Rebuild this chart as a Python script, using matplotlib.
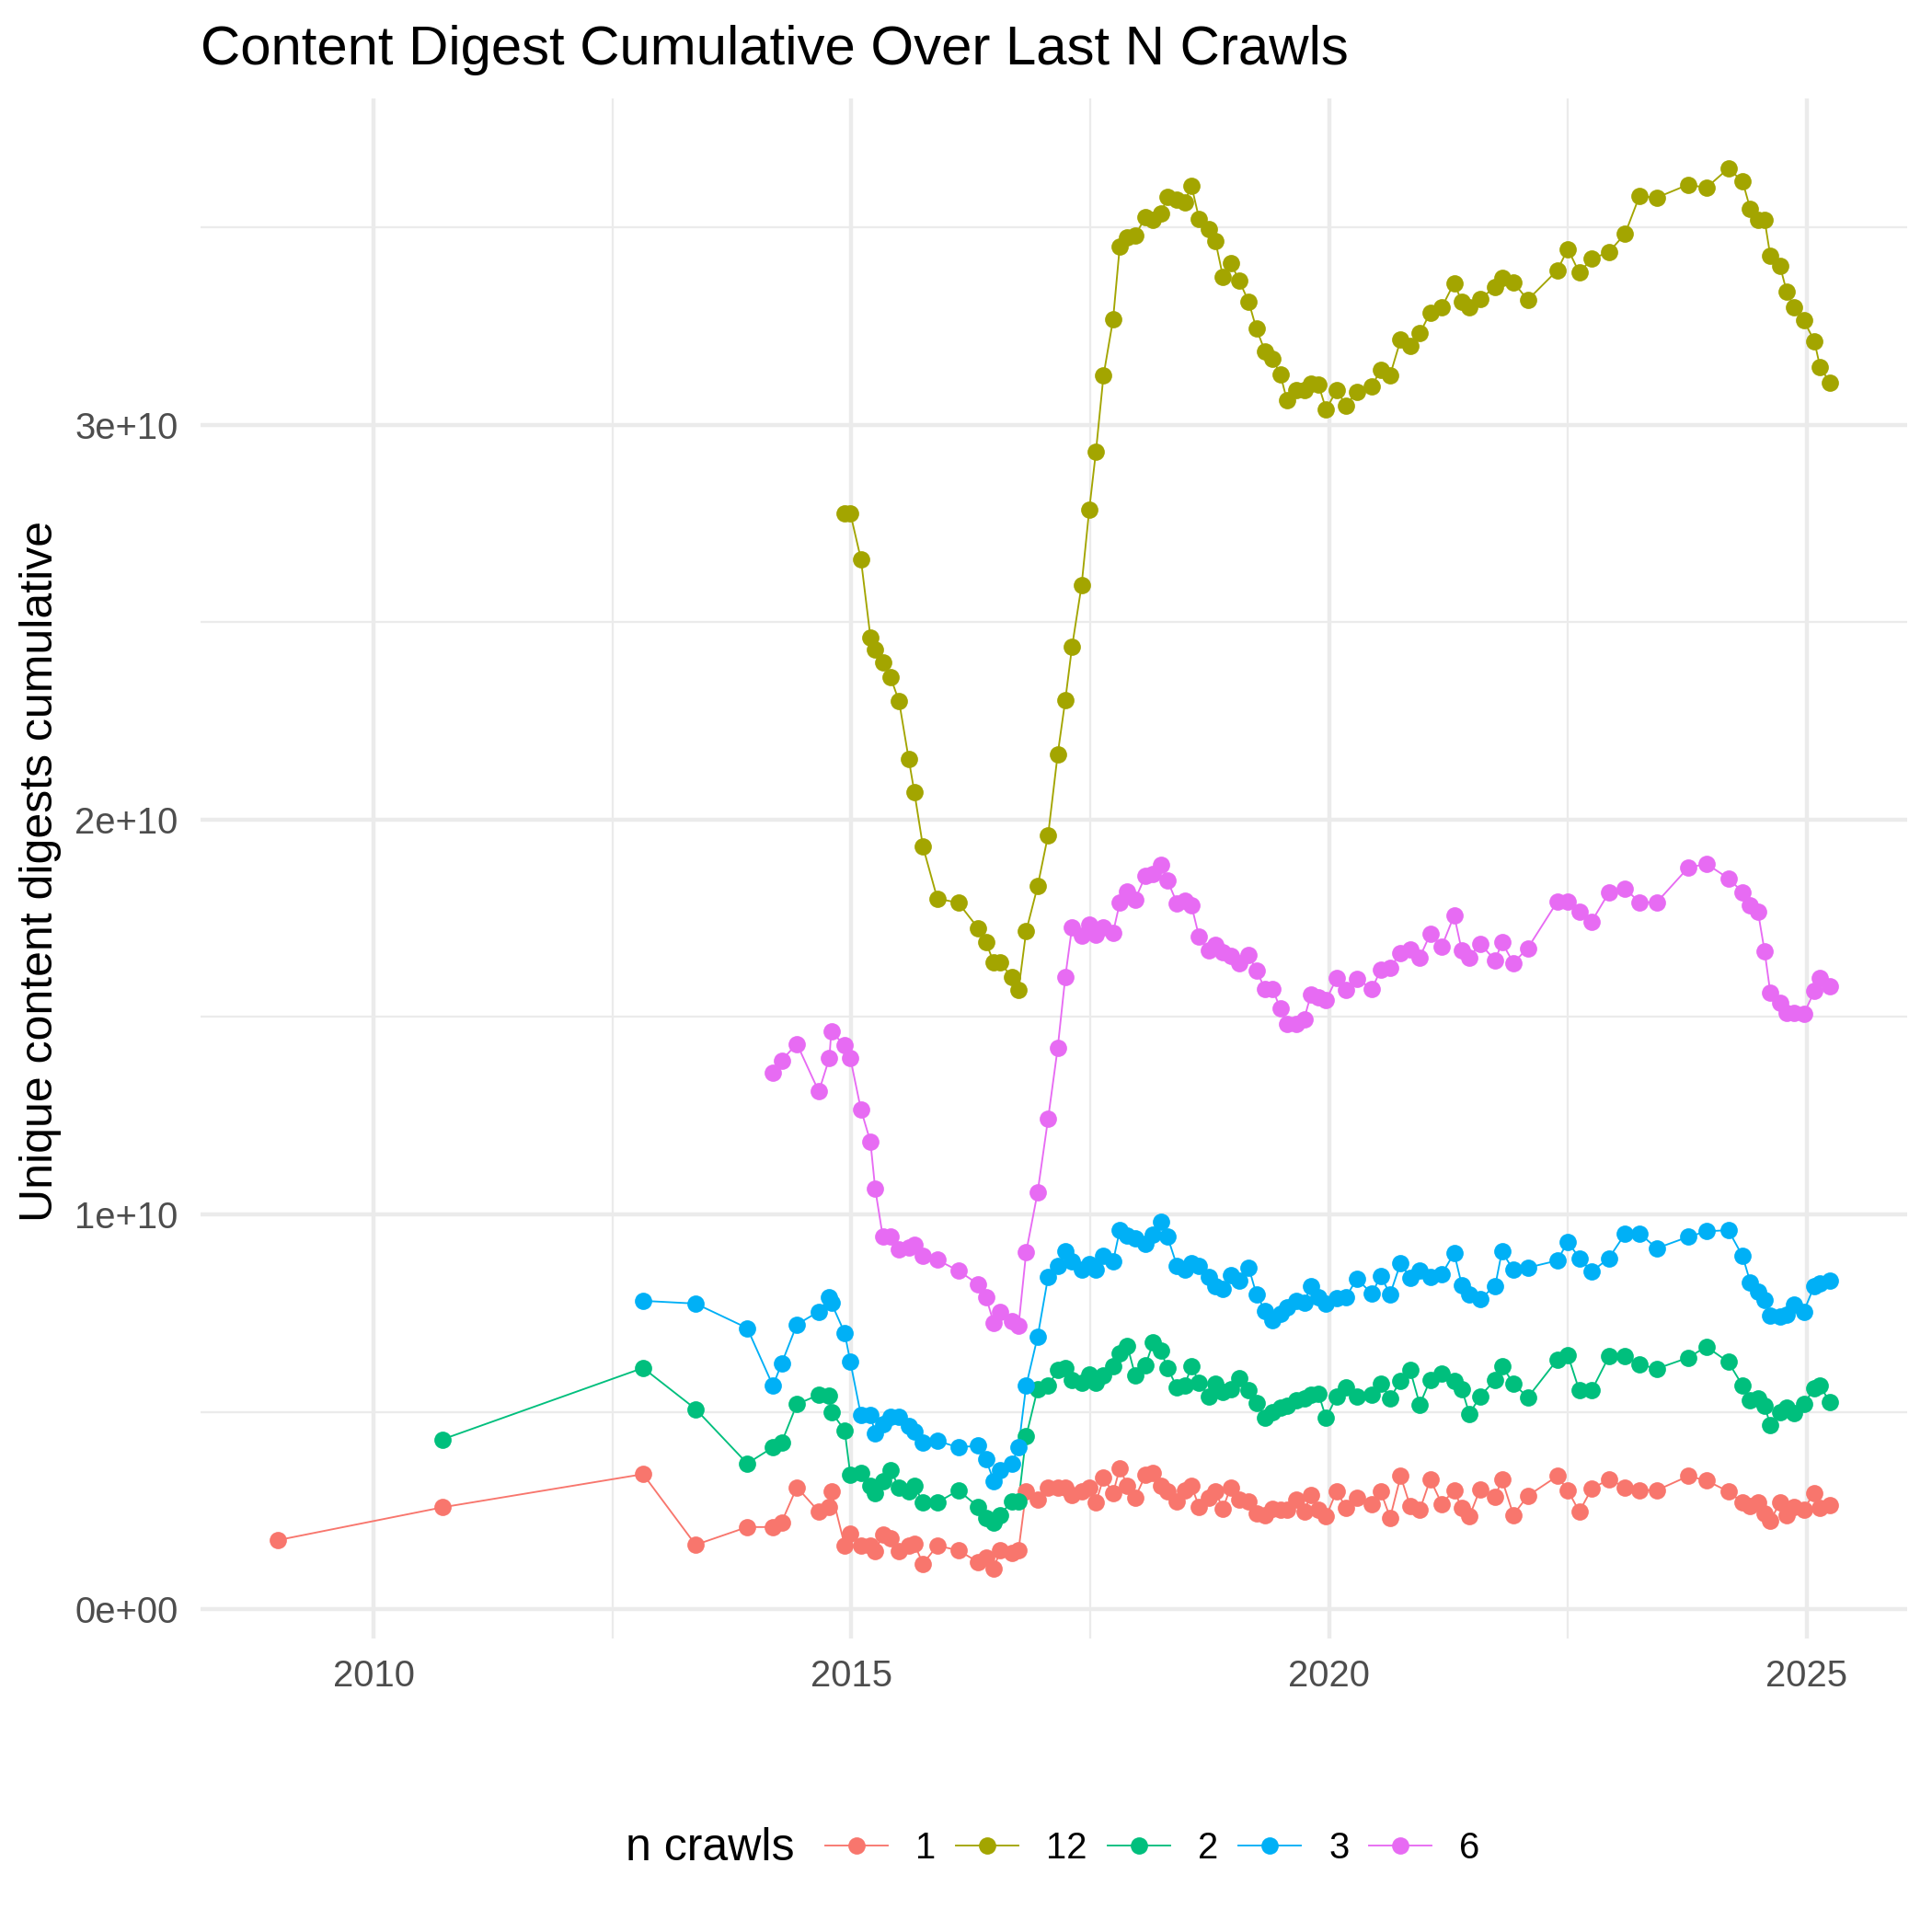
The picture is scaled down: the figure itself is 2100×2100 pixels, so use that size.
import matplotlib
matplotlib.use("Agg")
import matplotlib.pyplot as plt
from matplotlib.lines import Line2D
from matplotlib.ticker import FixedLocator

plt.rcParams['font.family'] = ['Liberation Sans', 'DejaVu Sans']

# Crawl dates (decimal years)
dates = [2009.00, 2010.72, 2012.82, 2013.37, 2013.91,
         2014.18, 2014.27, 2014.43, 2014.66, 2014.77, 2014.79, 2014.93, 2014.99,
         2015.10, 2015.20, 2015.25, 2015.33, 2015.41, 2015.50, 2015.60, 2015.66, 2015.75, 2015.90,
         2016.12, 2016.33, 2016.41, 2016.49, 2016.56, 2016.68, 2016.75, 2016.83, 2016.95,
         2017.06, 2017.16, 2017.24, 2017.31, 2017.41, 2017.49, 2017.56, 2017.64, 2017.74, 2017.81, 2017.89, 2017.97,
         2018.08, 2018.16, 2018.24, 2018.31, 2018.41, 2018.49, 2018.56, 2018.64, 2018.74, 2018.81, 2018.89, 2018.97,
         2019.06, 2019.16, 2019.24, 2019.33, 2019.41, 2019.49, 2019.56, 2019.66, 2019.74, 2019.81, 2019.89, 2019.97,
         2020.08, 2020.18, 2020.29, 2020.45, 2020.54, 2020.64, 2020.75, 2020.85, 2020.95,
         2021.06, 2021.18, 2021.31, 2021.39, 2021.47, 2021.58, 2021.74, 2021.81, 2021.93,
         2022.08, 2022.39, 2022.50, 2022.62, 2022.75, 2022.93,
         2023.10, 2023.25, 2023.43, 2023.76, 2023.95,
         2024.18, 2024.33, 2024.41, 2024.49, 2024.56, 2024.62, 2024.72, 2024.79, 2024.87, 2024.97,
         2025.08, 2025.14, 2025.24]

# Unique content digests cumulative, in billions (each series ends at the last crawl)
n1 = [1.75, 2.58, 3.42, 1.63, 2.08,
      2.08, 2.20, 3.09, 2.47, 2.59, 2.98, 1.62, 1.91,
      1.62, 1.62, 1.46, 1.89, 1.80, 1.46, 1.61, 1.65, 1.15, 1.61,
      1.49, 1.19, 1.30, 1.03, 1.49, 1.42, 1.49, 2.98, 2.78,
      3.08, 3.08, 3.09, 2.90, 2.98, 3.09, 2.70, 3.33, 2.94, 3.57, 3.13, 2.82,
      3.40, 3.44, 3.13, 2.98, 2.74, 3.01, 3.13, 2.59, 2.82, 2.98, 2.55, 3.09,
      2.78, 2.74, 2.43, 2.39, 2.55, 2.51, 2.51, 2.78, 2.47, 2.90, 2.51, 2.35,
      2.99, 2.56, 2.82, 2.67, 2.99, 2.32, 3.37, 2.61, 2.51,
      3.29, 2.67, 3.01, 2.56, 2.35, 3.03, 2.84, 3.29, 2.39,
      2.87, 3.37, 3.01, 2.47, 3.05, 3.29,
      3.09, 3.01, 3.01, 3.37, 3.26,
      2.98, 2.70, 2.61, 2.70, 2.43, 2.24, 2.70, 2.39, 2.59, 2.53,
      2.95, 2.56, 2.63]

n2 = [4.30, 6.11, 5.07, 3.69,
      4.10, 4.22, 5.19, 5.43, 5.40, 5.00, 4.53, 3.40,
      3.44, 3.13, 2.94, 3.25, 3.52, 3.09, 2.98, 3.13, 2.70, 2.70,
      3.01, 2.59, 2.32, 2.20, 2.39, 2.74, 2.74, 4.38, 5.58,
      5.66, 6.05, 6.10, 5.81, 5.74, 5.95, 5.74, 5.93, 6.16, 6.49, 6.67, 5.93,
      6.18, 6.76, 6.55, 6.10, 5.62, 5.66, 6.16, 5.74, 5.39, 5.70, 5.50, 5.57,
      5.85, 5.54, 5.23, 4.84, 5.00, 5.11, 5.15, 5.29, 5.35, 5.43, 5.46, 4.84,
      5.39, 5.62, 5.39, 5.43, 5.70, 5.35, 5.78, 6.05, 5.18,
      5.81, 5.97, 5.78, 5.58, 4.94, 5.39, 5.81, 6.16, 5.72,
      5.36, 6.32, 6.44, 5.54, 5.54, 6.40,
      6.41, 6.20, 6.09, 6.37, 6.65,
      6.26, 5.66, 5.29, 5.35, 5.15, 4.66, 4.99, 5.11, 4.97, 5.19,
      5.60, 5.66, 5.25]

n3 = [7.81, 7.74, 7.12,
      5.66, 6.22, 7.21, 7.54, 7.91, 7.76, 7.00, 6.26,
      4.92, 4.92, 4.45, 4.69, 4.88, 4.88, 4.65, 4.49, 4.22, 4.26,
      4.10, 4.14, 3.79, 3.25, 3.52, 3.68, 4.10, 5.66, 6.90,
      8.42, 8.69, 9.06, 8.81, 8.61, 8.73, 8.61, 8.95, 8.81, 9.60, 9.47, 9.39,
      9.25, 9.49, 9.82, 9.43, 8.69, 8.61, 8.77, 8.69, 8.42, 8.19, 8.11, 8.46,
      8.32, 8.65, 7.98, 7.56, 7.31, 7.49, 7.64, 7.80, 7.76, 8.19, 7.91, 7.74,
      7.89, 7.91, 8.37, 7.99, 8.44, 7.98, 8.77, 8.38, 8.57,
      8.42, 8.48, 9.02, 8.21, 7.98, 7.85, 8.19, 9.06, 8.59,
      8.65, 8.83, 9.31, 8.89, 8.55, 8.89,
      9.51, 9.52, 9.14, 9.43, 9.57,
      9.60, 8.94, 8.28, 8.03, 7.84, 7.43, 7.41, 7.45, 7.72, 7.54,
      8.19, 8.26, 8.32]

n6 = [13.59, 13.90, 14.32, 13.11, 13.96, 14.63, 14.28, 13.95,
      12.66, 11.84, 10.64, 9.43, 9.43, 9.12, 9.16, 9.24, 8.96, 8.85,
      8.57, 8.23, 7.91, 7.25, 7.53, 7.29, 7.17, 9.04, 10.56,
      12.43, 14.21, 16.02, 17.27, 17.06, 17.33, 17.08, 17.27, 17.14, 17.89, 18.18, 17.97,
      18.58, 18.63, 18.86, 18.45, 17.88, 17.94, 17.83, 17.03, 16.68, 16.82, 16.64, 16.54,
      16.35, 16.56, 16.18, 15.71, 15.71, 15.21, 14.83, 14.83, 14.95, 15.56, 15.49, 15.43,
      15.98, 15.69, 15.97, 15.71, 16.19, 16.25, 16.62, 16.71, 16.51,
      17.10, 16.78, 17.57, 16.68, 16.51, 16.86, 16.43, 16.89, 16.37,
      16.74, 17.92, 17.92, 17.67, 17.42, 18.15,
      18.25, 17.90, 17.90, 18.78, 18.88,
      18.51, 18.16, 17.83, 17.67, 16.66, 15.61, 15.36, 15.11, 15.11, 15.07,
      15.65, 15.98, 15.78]

n12 = [27.75, 27.75,
       26.60, 24.62, 24.30, 23.97, 23.61, 22.99, 21.54, 20.69, 19.31, 18.00,
       17.89, 17.24, 16.89, 16.38, 16.38, 16.00, 15.68, 17.17, 18.31,
       19.61, 21.65, 23.03, 24.37, 25.93, 27.84, 29.31, 31.25, 32.67, 34.52, 34.74, 34.80,
       35.25, 35.19, 35.34, 35.77, 35.71, 35.63, 36.06, 35.22, 34.95, 34.66, 33.75, 34.10,
       33.65, 33.11, 32.43, 31.86, 31.67, 31.28, 30.62, 30.87, 30.87, 31.05, 31.01, 30.39,
       30.87, 30.49, 30.84, 30.97, 31.40, 31.26, 32.15, 32.00, 32.31,
       32.84, 32.97, 33.59, 33.12, 32.97, 33.19, 33.48, 33.71, 33.61,
       33.16, 33.91, 34.45, 33.85, 34.20, 34.37,
       34.84, 35.79, 35.75, 36.08, 36.00,
       36.49, 36.16, 35.46, 35.18, 35.18, 34.27, 34.03, 33.38, 32.97, 32.64,
       32.12, 31.47, 31.07]

series_labels = ["1", "12", "2", "3", "6"]
series_values = [n1, n12, n2, n3, n6]
colors = ["#F8766D", "#A3A500", "#00BF7D", "#00B0F6", "#E76BF3"]

x_ticks = [2010, 2015, 2020, 2025]
x_tick_labels = ["2010", "2015", "2020", "2025"]
y_ticks = [0, 1e10, 2e10, 3e10]
y_tick_labels = ["0e+00", "1e+10", "2e+10", "3e+10"]

fig = plt.figure(figsize=(7, 7), dpi=300)
L, R, B, T = 218 / 2100, 2073 / 2100, 1 - 1781 / 2100, 1 - 107 / 2100
ax = fig.add_axes([L, B, R - L, T - B])

LW = 0.45
MS = 4.5
for lab, vals, c in zip(series_labels, series_values, colors):
    xs = dates[-len(vals):]
    ys = [v * 1e9 for v in vals]
    ax.plot(xs, ys, color=c, lw=LW, zorder=2)
for lab, vals, c in zip(series_labels, series_values, colors):
    xs = dates[-len(vals):]
    ys = [v * 1e9 for v in vals]
    ax.plot(xs, ys, linestyle='none', marker='o', ms=MS, mfc=c, mec='none', zorder=3)

xmin, xmax = min(dates), max(dates)
xr = xmax - xmin
ax.set_xlim(xmin - 0.05 * xr, xmax + 0.05 * xr)
allv = [v for s in series_values for v in s]
ymin, ymax = min(allv) * 1e9, max(allv) * 1e9
yr = ymax - ymin
ax.set_ylim(ymin - 0.05 * yr, ymax + 0.05 * yr)

ax.xaxis.set_major_locator(FixedLocator(x_ticks))
ax.set_xticklabels(x_tick_labels)
ax.xaxis.set_minor_locator(FixedLocator([2012.5, 2017.5, 2022.5]))
ax.yaxis.set_major_locator(FixedLocator(y_ticks))
ax.set_yticklabels(y_tick_labels)
ax.yaxis.set_minor_locator(FixedLocator([5e9, 1.5e10, 2.5e10, 3.5e10]))

ax.grid(which='major', color='#EBEBEB', lw=1.07, zorder=0)
ax.grid(which='minor', color='#EBEBEB', lw=0.53, zorder=0)
ax.set_axisbelow(True)
for s in ax.spines.values():
    s.set_visible(False)
ax.tick_params(which='both', length=0)
ax.tick_params(axis='x', pad=5.2, labelsize=9.6, labelcolor='#4D4D4D')
ax.tick_params(axis='y', pad=5.8, labelsize=9.6, labelcolor='#4D4D4D')

fig.text(L, 1 - 69.6 / 2100, "Content Digest Cumulative Over Last N Crawls",
         fontsize=14.4, ha='left', va='baseline', color='black')
fig.text(44 / 2100, 1 - 947 / 2100, "Unique content digests cumulative",
         fontsize=12, rotation=90, ha='center', va='center', color='black')

handles = [Line2D([0], [0], color=c, lw=LW, marker='o', ms=MS, mfc=c, mec='none')
           for c in colors]
leg_y = 1 - 2009 / 2100
fig.legend(handles, series_labels, loc='center left', bbox_to_anchor=(897 / 2100, leg_y),
           ncol=5, frameon=False, fontsize=9.6, handlelength=1.7, handletextpad=0.75,
           columnspacing=0.55, borderpad=0, borderaxespad=0)
fig.text(864 / 2100, leg_y, "n crawls", fontsize=12, ha='right', va='center')

fig.savefig("out.png", dpi=300, facecolor='white')
